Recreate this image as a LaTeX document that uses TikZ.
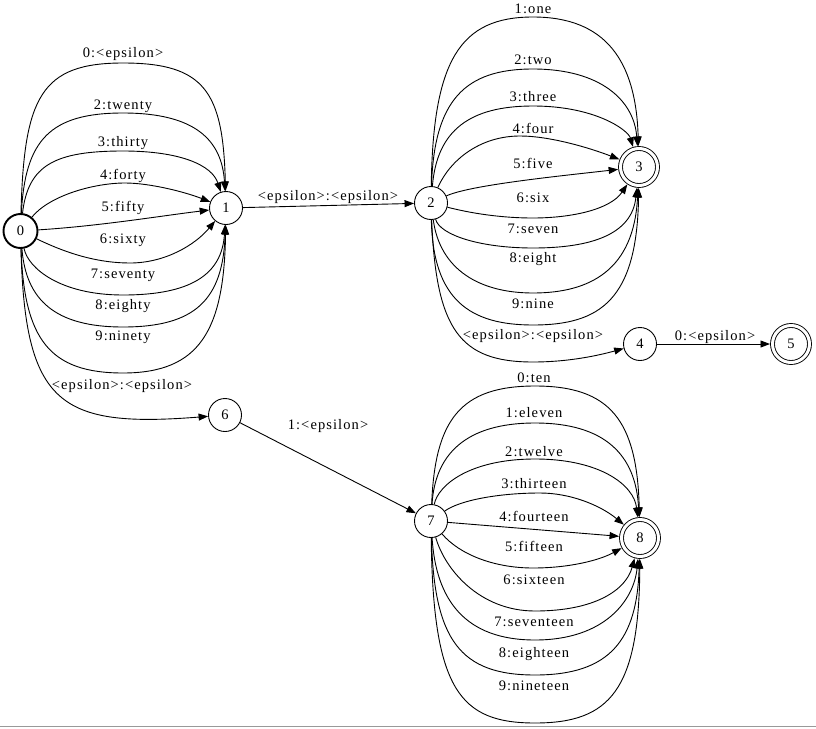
\documentclass[tikz,border=0pt]{standalone}
\usepackage{fontspec}
\setmainfont{Liberation Serif}
\newfontfamily\lblfam[LetterSpace=7.5]{Liberation Serif}
\usetikzlibrary{arrows.meta}
\begin{document}
\begin{tikzpicture}[x=1pt,y=-1pt,
  state/.style={circle, draw, line width=0.9pt, minimum size=33pt, inner sep=0pt, outer sep=0.45pt,
    font=\fontsize{14.5}{17}\selectfont},
  startstate/.style={state, line width=1.9pt, minimum size=34pt, outer sep=0.95pt},
  accept/.style={state, double, double distance=3pt, minimum size=37pt, outer sep=2.5pt},
  edge/.style={draw, line width=0.9pt, -{Triangle[length=9.5pt,width=7pt]}},
  lbl/.style={font=\lblfam\fontsize{14.5}{17}\selectfont, inner sep=0pt}]
\useasboundingbox (0,0) rectangle (816,728);
\fill[white] (0,0) rectangle (816,728);
\draw[black!40, line width=1.3pt] (0,726.5) -- (816,726.5);

\node[startstate] (n0) at (20.5,231) {0};
\node[state] (n1) at (226,208) {1};
\node[state] (n2) at (431,203) {2};
\node[accept] (n3) at (639,167) {3};
\node[state] (n4) at (640,344) {4};
\node[accept] (n5) at (791,344) {5};
\node[state] (n6) at (225,415) {6};
\node[state] (n7) at (431,521) {7};
\node[accept] (n8) at (640,538) {8};

% 0 -> 1
\draw[edge] (n0) .. controls (24,97) and (41,63) .. (123,63) .. controls (205,63) and (223,92) .. (n1)
  node[lbl] at (123,54) {0:<epsilon>};
\draw[edge] (n0) .. controls (25,140) and (50,113) .. (123,113) .. controls (195,113) and (222,140) .. (n1)
  node[lbl] at (123,106) {2:twenty};
\draw[edge] (n0) .. controls (28,165) and (55,151) .. (123,151) .. controls (180,151) and (212,165) .. (n1)
  node[lbl] at (123,143) {3:thirty};
\draw[edge] (n0) .. controls (50,195) and (95,183) .. (125,183) .. controls (150,183) and (185,192) .. (n1)
  node[lbl] at (123,176) {4:forty};
\draw[edge] (n0) .. controls (100,226) and (160,216) .. (n1)
  node[lbl] at (123,208) {5:fifty};
\draw[edge] (n0) .. controls (70,255) and (100,263) .. (130,263) .. controls (165,263) and (195,245) .. (n1)
  node[lbl] at (123,240) {6:sixty};
\draw[edge] (n0) .. controls (28,268) and (60,295) .. (123,295) .. controls (190,295) and (222,275) .. (n1)
  node[lbl] at (123,275) {7:seventy};
\draw[edge] (n0) .. controls (26,300) and (55,327) .. (123,327) .. controls (195,327) and (223,300) .. (n1)
  node[lbl] at (123,306) {8:eighty};
\draw[edge] (n0) .. controls (24,340) and (50,373) .. (123,373) .. controls (200,373) and (224,330) .. (n1)
  node[lbl] at (123,337) {9:ninety};
% 0 -> 6
\draw[edge] (n0) .. controls (25,405) and (60,428) .. (n6)
  node[lbl] at (122,386) {<epsilon>:<epsilon>};
% 1 -> 2
\draw[edge] (n1) -- (n2) node[lbl] at (328,197) {<epsilon>:<epsilon>};
% 2 -> 3
\draw[edge] (n2) .. controls (433,60) and (460,17) .. (533,17) .. controls (605,17) and (636,60) .. (n3)
  node[lbl] at (533,9) {1:one};
\draw[edge] (n2) .. controls (434,100) and (465,69) .. (533,69) .. controls (600,69) and (634,100) .. (n3)
  node[lbl] at (533,60) {2:two};
\draw[edge] (n2) .. controls (437,130) and (470,106) .. (533,106) .. controls (595,106) and (628,130) .. (n3)
  node[lbl] at (533,97) {3:three};
\draw[edge] (n2) .. controls (450,160) and (480,136) .. (520,136) .. controls (550,136) and (590,148) .. (n3)
  node[lbl] at (533,128) {4:four};
\draw[edge] (n2) .. controls (470,185) and (560,176) .. (n3)
  node[lbl] at (533,163) {5:five};
\draw[edge] (n2) .. controls (470,213) and (500,218) .. (533,218) .. controls (570,218) and (610,210) .. (n3)
  node[lbl] at (533,198) {6:six};
\draw[edge] (n2) .. controls (440,235) and (480,248) .. (533,248) .. controls (590,248) and (632,235) .. (n3)
  node[lbl] at (533,229) {7:seven};
\draw[edge] (n2) .. controls (440,270) and (480,293) .. (533,293) .. controls (590,293) and (634,270) .. (n3)
  node[lbl] at (533,259) {8:eight};
\draw[edge] (n2) .. controls (433,300) and (470,325) .. (533,325) .. controls (600,325) and (637,300) .. (n3)
  node[lbl] at (533,304) {9:nine};
% 2 -> 4
\draw[edge] (n2) .. controls (436,330) and (460,362) .. (533,362) .. controls (570,362) and (600,355) .. (n4)
  node[lbl] at (533,336) {<epsilon>:<epsilon>};
% 4 -> 5
\draw[edge] (n4) -- (n5) node[lbl] at (715,337) {0:<epsilon>};
% 6 -> 7
\draw[edge] (n6) -- (n7) node[lbl] at (328,426) {1:<epsilon>};
% 7 -> 8
\draw[edge] (n7) .. controls (435,420) and (460,386) .. (535,386) .. controls (610,386) and (637,420) .. (n8)
  node[lbl] at (534,378) {0:ten};
\draw[edge] (n7) .. controls (435,455) and (465,423) .. (535,423) .. controls (605,423) and (636,455) .. (n8)
  node[lbl] at (534,413) {1:eleven};
\draw[edge] (n7) .. controls (438,485) and (470,459) .. (535,459) .. controls (600,459) and (634,485) .. (n8)
  node[lbl] at (534,452) {2:twelve};
\draw[edge] (n7) .. controls (460,500) and (500,493) .. (540,493) .. controls (570,493) and (600,505) .. (n8)
  node[lbl] at (534,484) {3:thirteen};
\draw[edge] (n7) -- (n8)
  node[lbl] at (534,516) {4:fourteen};
\draw[edge] (n7) .. controls (460,555) and (495,568) .. (533,568) .. controls (570,568) and (600,560) .. (n8)
  node[lbl] at (534,546) {5:fifteen};
\draw[edge] (n7) .. controls (445,570) and (480,611) .. (535,611) .. controls (595,611) and (626,590) .. (n8)
  node[lbl] at (534,580) {6:sixteen};
\draw[edge] (n7) .. controls (436,600) and (465,640) .. (535,640) .. controls (605,640) and (634,600) .. (n8)
  node[lbl] at (534,622) {7:seventeen};
\draw[edge] (n7) .. controls (434,640) and (460,675) .. (535,675) .. controls (610,675) and (637,640) .. (n8)
  node[lbl] at (534,654) {8:eighteen};
\draw[edge] (n7) .. controls (433,690) and (460,723) .. (535,723) .. controls (610,723) and (639,690) .. (n8)
  node[lbl] at (534,686) {9:nineteen};
\end{tikzpicture}
\end{document}
